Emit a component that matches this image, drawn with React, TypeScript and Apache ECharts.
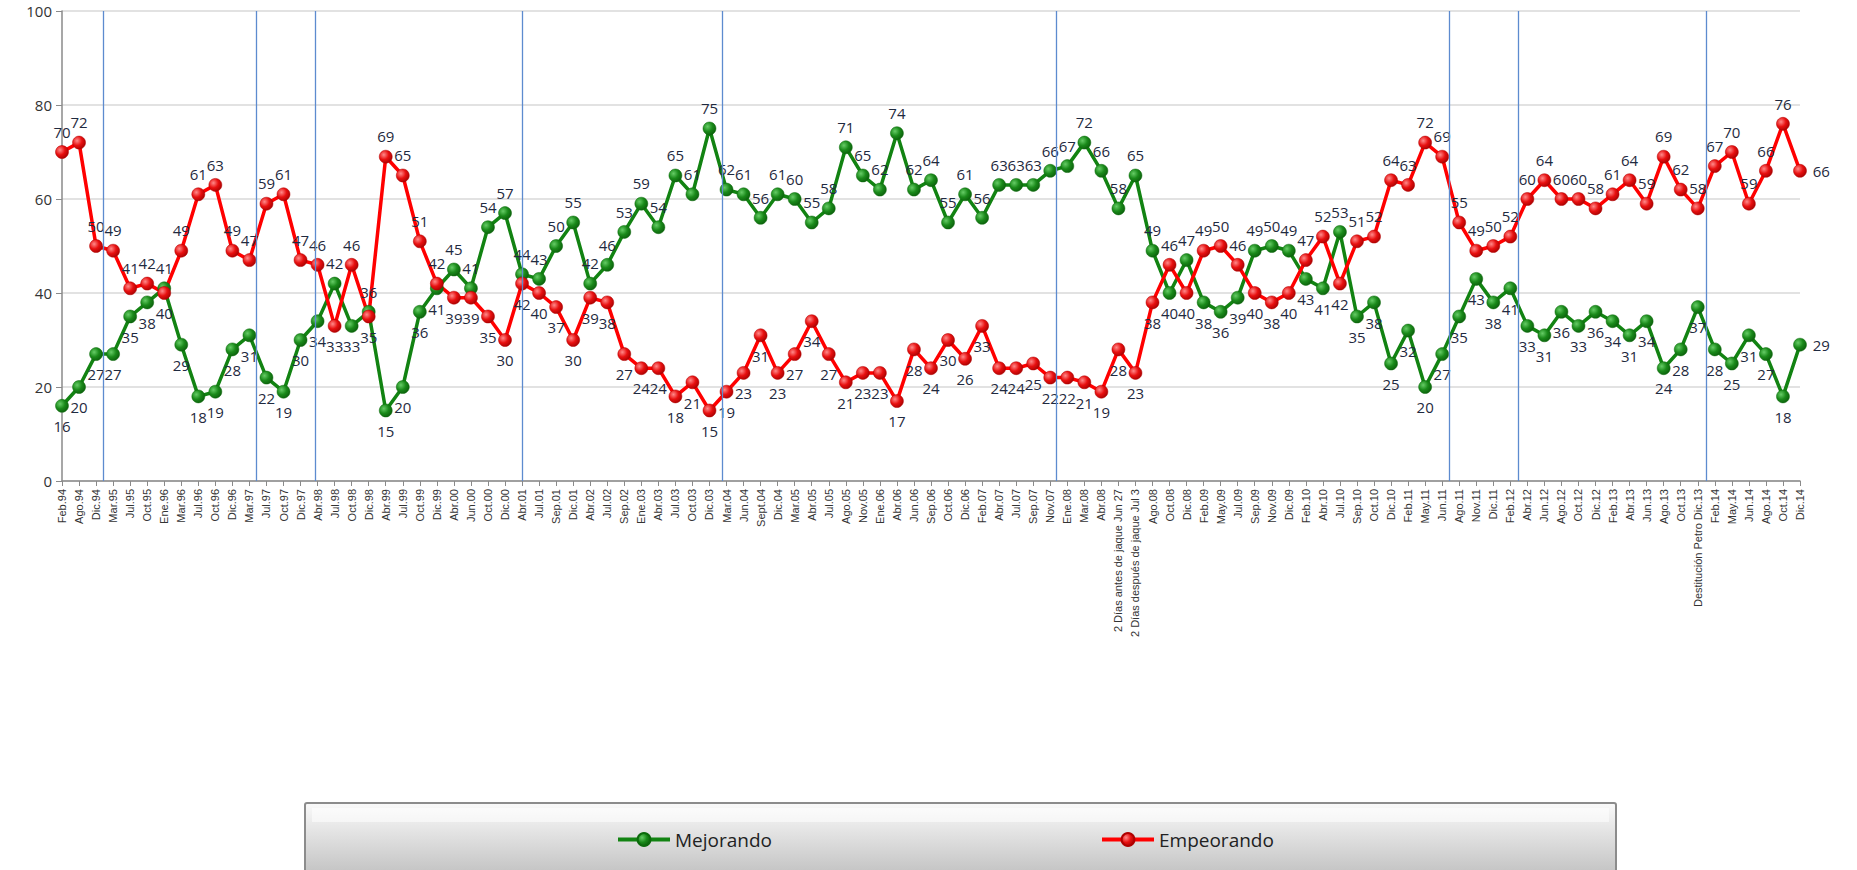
import React, { useEffect, useRef } from "react";
import * as echarts from "echarts";

const categories = [
  "Feb.94", "Ago.94", "Dic.94", "Mar.95", "Jul.95", "Oct.95", "Ene.96", "Mar.96", "Jul.96", "Oct.96",
  "Dic.96", "Mar.97", "Jul.97", "Oct.97", "Dic.97", "Abr.98", "Jul.98", "Oct.98", "Dic.98", "Abr.99",
  "Jul.99", "Oct.99", "Dic.99", "Abr.00", "Jun.00", "Oct.00", "Dic.00", "Abr.01", "Jul.01", "Sep.01",
  "Dic.01", "Abr.02", "Jul.02", "Sep.02", "Ene.03", "Abr.03", "Jul.03", "Oct.03", "Dic.03", "Mar.04",
  "Jun.04", "Sept.04", "Dic.04", "Mar.05", "Abr.05", "Jul.05", "Ago.05", "Nov.05", "Ene.06", "Abr.06",
  "Jun.06", "Sep.06", "Oct.06", "Dic.06", "Feb.07", "Abr.07", "Jul.07", "Sep.07", "Nov.07", "Ene.08",
  "Mar.08", "Abr.08", "2 Días antes de jaque Jun 27", "2 Días después de jaque Jul 3", "Ago.08", "Oct.08", "Dic.08", "Feb.09", "May.09", "Jul.09",
  "Sep.09", "Nov.09", "Dic.09", "Feb.10", "Abr.10", "Jul.10", "Sep.10", "Oct.10", "Dic.10", "Feb.11",
  "May.11", "Jun.11", "Ago.11", "Nov.11", "Dic.11", "Feb.12", "Abr.12", "Jun.12", "Ago.12", "Oct.12",
  "Dic.12", "Feb.13", "Abr.13", "Jun.13", "Ago.13", "Oct.13", "Destitución Petro Dic.13", "Feb.14", "May.14", "Jun.14",
  "Ago.14", "Oct.14", "Dic.14",
];

const mejorando = [
  16, 20, 27, 27, 35, 38, 41, 29, 18, 19,
  28, 31, 22, 19, 30, 34, 42, 33, 36, 15,
  20, 36, 41, 45, 41, 54, 57, 44, 43, 50,
  55, 42, 46, 53, 59, 54, 65, 61, 75, 62,
  61, 56, 61, 60, 55, 58, 71, 65, 62, 74,
  62, 64, 55, 61, 56, 63, 63, 63, 66, 67,
  72, 66, 58, 65, 49, 40, 47, 38, 36, 39,
  49, 50, 49, 43, 41, 53, 35, 38, 25, 32,
  20, 27, 35, 43, 38, 41, 33, 31, 36, 33,
  36, 34, 31, 34, 24, 28, 37, 28, 25, 31,
  27, 18, 29,
];

const empeorando = [
  70, 72, 50, 49, 41, 42, 40, 49, 61, 63,
  49, 47, 59, 61, 47, 46, 33, 46, 35, 69,
  65, 51, 42, 39, 39, 35, 30, 42, 40, 37,
  30, 39, 38, 27, 24, 24, 18, 21, 15, 19,
  23, 31, 23, 27, 34, 27, 21, 23, 23, 17,
  28, 24, 30, 26, 33, 24, 24, 25, 22, 22,
  21, 19, 28, 23, 38, 46, 40, 49, 50, 46,
  40, 38, 40, 47, 52, 42, 51, 52, 64, 63,
  72, 69, 55, 49, 50, 52, 60, 64, 60, 60,
  58, 61, 64, 59, 69, 62, 58, 67, 70, 59,
  66, 76, 66,
];

// Bogotá mayoral-term separators, in category-index units
const termLines = [2.43, 11.4, 14.87, 27.01, 38.76, 58.38, 81.39, 85.47, 96.47];

const seriesNames = ["Mejorando", "Empeorando"];

export default function App() {
  const ref = useRef<HTMLDivElement>(null);

  useEffect(() => {
    document.body.style.margin = "0";
    if (!ref.current) return;
    const chart = echarts.init(ref.current, null, { renderer: "svg" });
    const last = categories.length - 1;

    const posFor = (own: number[], other: number[], i: number) => {
      if (i === last) return "right";
      return own[i] >= other[i] ? "top" : "bottom";
    };

    const greenDot = new echarts.graphic.RadialGradient(0.35, 0.35, 0.75, [
      { offset: 0, color: "#66cc66" },
      { offset: 0.5, color: "#1a8a1a" },
      { offset: 1, color: "#0a5a0a" },
    ]);
    const redDot = new echarts.graphic.RadialGradient(0.35, 0.35, 0.75, [
      { offset: 0, color: "#ff8a8a" },
      { offset: 0.5, color: "#e81010" },
      { offset: 1, color: "#a00000" },
    ]);

    const labelBase = {
      show: true,
      fontSize: 15,
      color: "#1f2a40",
      fontFamily: "Open Sans, sans-serif",
      distance: 6,
    };

    const mkData = (own: number[], other: number[]) =>
      own.map((v, i) => ({ value: v, label: { position: posFor(own, other, i) } }));

    const legendBase = {
      top: 825,
      itemWidth: 52,
      itemHeight: 16,
      lineStyle: { width: 4 },
      textStyle: { fontSize: 19, color: "#222", fontFamily: "Open Sans, sans-serif" },
    };

    chart.setOption({
      animation: false,
      backgroundColor: "#ffffff",
      graphic: [
        {
          type: "rect",
          shape: { x: 305, y: 803, width: 1311, height: 80, r: 2 },
          style: {
            fill: new echarts.graphic.LinearGradient(0, 0, 0, 1, [
              { offset: 0, color: "#fafafa" },
              { offset: 0.35, color: "#e4e4e4" },
              { offset: 1, color: "#bcbcbc" },
            ]),
            stroke: "#8c8c8c",
            lineWidth: 2,
          },
          z: -1,
        },
        {
          type: "rect",
          shape: { x: 312, y: 808, width: 1297, height: 14 },
          style: { fill: "rgba(255,255,255,0.55)" },
          z: -1,
        },
      ],
      legend: [
        { ...legendBase, data: [seriesNames[0]], left: 611 },
        { ...legendBase, data: [seriesNames[1]], left: 1095 },
      ],
      grid: { left: 62, right: 57, top: 11, bottom: 389, containLabel: false },
      xAxis: [
        {
          type: "category",
          data: categories,
          boundaryGap: false,
          axisLine: { lineStyle: { color: "#8a8a8a", width: 1.5 } },
          axisTick: { show: true, length: 5, lineStyle: { color: "#8a8a8a" }, interval: 0 },
          axisLabel: {
            interval: 0,
            rotate: 90,
            fontSize: 11,
            color: "#333",
            margin: 8,
            fontFamily: "Liberation Sans, Arial, sans-serif",
          },
          splitLine: { show: false },
        },
        {
          type: "value",
          min: 0,
          max: categories.length - 1,
          show: false,
          splitLine: { show: false },
        },
      ],
      yAxis: {
        type: "value",
        min: 0,
        max: 100,
        interval: 20,
        axisLine: { show: true, lineStyle: { color: "#8a8a8a", width: 1.5 } },
        axisTick: { show: true, length: 6, lineStyle: { color: "#8a8a8a" } },
        axisLabel: { fontSize: 15, color: "#333", margin: 10, fontFamily: "Open Sans, sans-serif" },
        splitLine: { lineStyle: { color: "#d9d9d9", width: 1.5 } },
      },
      series: [
        {
          name: seriesNames[0],
          type: "line",
          data: mkData(mejorando, empeorando),
          symbol: "circle",
          symbolSize: 13,
          color: "#128312",
          lineStyle: { color: "#128312", width: 3.5 },
          itemStyle: { color: greenDot, borderColor: "#0c6a0c", borderWidth: 0.5 },
          label: labelBase,
          z: 3,
        },
        {
          name: seriesNames[1],
          type: "line",
          data: mkData(empeorando, mejorando),
          symbol: "circle",
          symbolSize: 13,
          color: "#ff0000",
          lineStyle: { color: "#ff0000", width: 3.5 },
          itemStyle: { color: redDot, borderColor: "#b00000", borderWidth: 0.5 },
          label: labelBase,
          z: 3,
        },
        {
          name: "terms",
          type: "line",
          xAxisIndex: 1,
          data: [],
          silent: true,
          markLine: {
            silent: true,
            symbol: "none",
            label: { show: false },
            lineStyle: { color: "#5d8bcf", width: 1.3, type: "solid" },
            data: termLines.map((x) => ({ xAxis: x })),
          },
          z: 1,
        },
      ],
    });

    return () => chart.dispose();
  }, []);

  return <div ref={ref} style={{ width: 1857, height: 870 }} />;
}
